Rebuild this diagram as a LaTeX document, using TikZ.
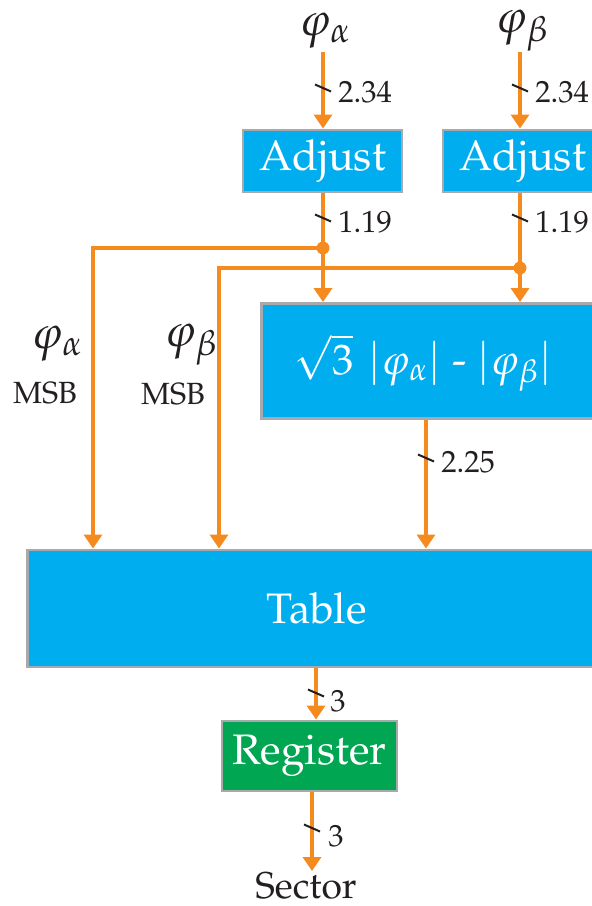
\documentclass[tikz,border=0pt]{standalone}
\usepackage[T1]{fontenc}
\usepackage{mathpazo}
\usetikzlibrary{arrows.meta}
\definecolor{boxblue}{HTML}{00AEEF}
\definecolor{boxgreen}{HTML}{00A651}
\definecolor{boxgray}{HTML}{A7A9AC}
\definecolor{wire}{HTML}{F58A1F}
\definecolor{ink}{HTML}{231F20}
\tikzset{
  bluebox/.style={draw=boxgray, line width=2.2pt, fill=boxblue, text=white, inner sep=0pt, font=\fontsize{32}{36}\selectfont},
  greenbox/.style={bluebox, fill=boxgreen},
  boxtext/.style={text=white, inner sep=0pt, font=\fontsize{32}{36}\selectfont},
  wirearrow/.style={draw=wire, line width=3pt, -{Triangle[width=13.5pt,length=10.5pt]}},
  junction/.style={circle, fill=wire, inner sep=0pt, minimum size=9.5pt},
  tick/.style={draw=ink, line width=1.5pt},
  lab/.style={text=ink, inner sep=0pt, font=\fontsize{23}{27}\selectfont},
  philab/.style={text=ink, inner sep=0pt, font=\fontsize{35}{40}\selectfont},
  seclab/.style={text=ink, inner sep=1pt, font=\fontsize{28}{32}\selectfont},
}
\begin{document}
\begin{tikzpicture}[x=0.75pt,y=-0.75pt]
\useasboundingbox (0,0) rectangle (592,906);
\clip (0,0) rectangle (592,906);
% boxes
\node[bluebox, minimum width=119.25pt, minimum height=46.5pt] (adj1) at (322.5,161) {Adjust};
\node[bluebox, minimum width=119.25pt, minimum height=46.5pt] (adj2) at (522.5,161) {Adjust};
\node[bluebox, minimum width=262pt, minimum height=86.25pt, anchor=west] (sq) at (260,361) {};
\node[boxtext] (sqt) at (423,363) {$\sqrt{3}\,\,|\varphi_{\alpha}|$ - $|\varphi_{\beta}|$};
\node[bluebox, minimum width=434pt, minimum height=87.75pt, anchor=west] (tab) at (26,608.5) {Table};
\node[greenbox, minimum width=131.25pt, minimum height=52.5pt] (reg) at (309.5,756) {Register};
% inputs / outputs
\node[philab] (pa) at (325,31) {$\varphi_{\alpha}$};
\node[philab] (pb) at (522,31) {$\varphi_{\beta}$};
\node[seclab, anchor=north] (sec) at (306,871) {Sector};
% side labels
\node[philab] (la) at (57,344) {$\varphi_{\alpha}$};
\node[lab] (ma) at (45,393) {MSB};
\node[philab] (lb) at (191,345) {$\varphi_{\beta}$};
\node[lab] (mb) at (173,394) {MSB};
% coordinates
\coordinate (inA) at (323,52);
\coordinate (inB) at (520,52);
\coordinate (xA) at (323,0);
\coordinate (xB) at (520,0);
\coordinate (c1) at (93,248);
\coordinate (c2) at (219,268);
\coordinate (xo) at (426,0);
\coordinate (xt) at (316,0);
\coordinate (xr) at (312,0);
\node[junction] (j1) at (323,248) {};
\node[junction] (j2) at (520,268) {};
% wires
\draw[wirearrow] (inA) -- (xA |- adj1.north);
\draw[wirearrow] (inB) -- (xB |- adj2.north);
\draw[wirearrow] (xA |- adj1.south) -- (xA |- sq.north);
\draw[wirearrow] (xB |- adj2.south) -- (xB |- sq.north);
\draw[wirearrow] (j1.center) -- (c1) -- (c1 |- tab.north);
\draw[wirearrow] (j2.center) -- (c2) -- (c2 |- tab.north);
\draw[wirearrow] (xo |- sq.south) -- (xo |- tab.north);
\draw[wirearrow] (xt |- tab.south) -- (xt |- reg.north);
\draw[wirearrow] (xr |- reg.south) -- (xr |- sec.north);
\node[junction] at (j1) {};
\node[junction] at (j2) {};
% bus ticks and widths
\coordinate (t1) at (323,88);
\coordinate (t2) at (520,88);
\coordinate (t3) at (323,218);
\coordinate (t4) at (520,218);
\coordinate (t5) at (426,458);
\coordinate (t6) at (316,693);
\coordinate (t7) at (312,828);
\foreach \t in {t1,t2,t3,t4,t5,t6,t7}{
  \draw[tick, shift={(\t)}] (-8,-3.5) -- (8,3.5);
}
\node[lab, anchor=west] (w1) at (338,92) {2.34};
\node[lab, anchor=west] (w2) at (535,92) {2.34};
\node[lab, anchor=west] (w3) at (338,222) {1.19};
\node[lab, anchor=west] (w4) at (535,222) {1.19};
\node[lab, anchor=west] (w5) at (441,462) {2.25};
\node[lab, anchor=west] (w6) at (330,701) {3};
\node[lab, anchor=west] (w7) at (328,836) {3};
\end{tikzpicture}
\end{document}
